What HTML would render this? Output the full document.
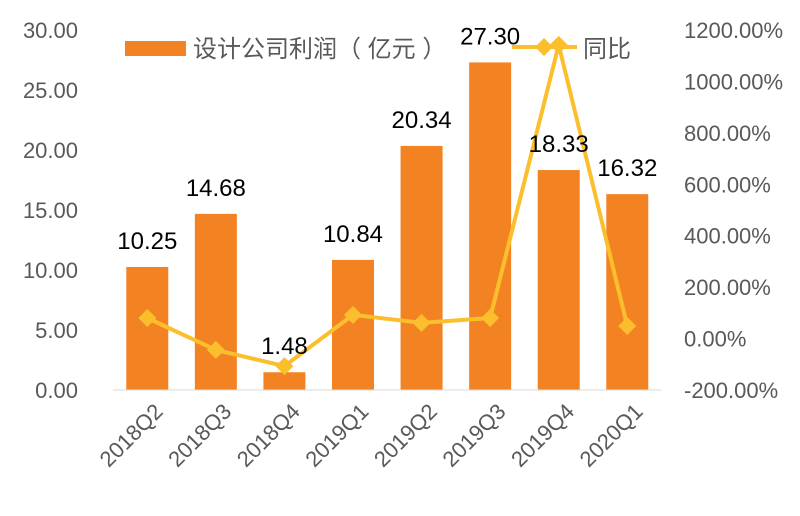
<!DOCTYPE html>
<html><head><meta charset="utf-8"><style>
body{margin:0;background:#fff;width:800px;height:516px;overflow:hidden;position:relative}
svg{display:block;font-family:"Liberation Sans","Noto Sans CJK SC",sans-serif}
</style></head><body>
<svg id="c" width="800" height="516"></svg>
<script>
const categories=["2018Q2","2018Q3","2018Q4","2019Q1","2019Q2","2019Q3","2019Q4","2020Q1"];
const profits=[10.25,14.68,1.48,10.84,20.34,27.30,18.33,16.32];
const yoy=[80,-44,-107,92,61,80,1142,49];
const leftTicks=[0,5,10,15,20,25,30];
const rightTicks=[-200,0,200,400,600,800,1000,1200];
const NS="http://www.w3.org/2000/svg";
const svgEl=document.getElementById('c');
const x0=113,step=68.57,yTop=30,yBot=390;
const xc=i=>x0+step*(i+0.5);
const yl=v=>yBot-(v/30)*(yBot-yTop);
const yr=v=>yBot-((v+200)/1400)*(yBot-yTop);
function mk(t,a){const e=document.createElementNS(NS,t);for(const k in a)e.setAttribute(k,a[k]);svgEl.appendChild(e);return e;}
leftTicks.forEach(v=>{const t=mk('text',{x:78,y:yl(v)+8,'text-anchor':'end','font-size':22,fill:'#595959'});t.textContent=v.toFixed(2);

});
rightTicks.forEach(v=>{const t=mk('text',{x:684,y:yr(v)+8,'font-size':22,fill:'#595959'});t.textContent=v.toFixed(2)+'%';

});
profits.forEach((v,i)=>{const r=mk('rect',{x:xc(i)-21,y:yl(v),width:42,height:yBot-yl(v),fill:'#F38223'});

});
const ax=mk('line',{x1:x0,x2:x0+step*8,y1:yBot,y2:yBot,stroke:'#d9d9d9','stroke-width':1});


let d=yoy.map((v,i)=>(i?'L':'M')+xc(i)+' '+yr(v)).join(' ');
const p=mk('path',{d:d,fill:'none',stroke:'#FBBF2E','stroke-width':4,'stroke-linejoin':'round'});


yoy.forEach((v,i)=>{const x=xc(i),y=yr(v);const m=mk('polygon',{points:`${x},${y-9} ${x+9},${y} ${x},${y+9} ${x-9},${y}`,fill:'#FBBF2E'});

});
profits.forEach((v,i)=>{const t=mk('text',{x:xc(i),y:yl(v)-18,'text-anchor':'middle','font-size':24,fill:'#000'});t.textContent=v.toFixed(2);

});
categories.forEach((c,i)=>{const x=xc(i)+6,y=402;const t=mk('text',{x:x,y:y,'text-anchor':'end','font-size':22,fill:'#595959',transform:`rotate(-45 ${x} ${y})`,dy:'0.7em'});t.textContent=c;

});
</script>
<svg style="position:absolute;left:0;top:0" width="800" height="80">
<g>
<rect x="125" y="41" width="61" height="15" fill="#F38223"/>
<text x="193" y="57" font-size="24" fill="#595959">设计公司利润（ 亿元 ）</text>
<line x1="512" x2="577" y1="47" y2="47" stroke="#FBBF2E" stroke-width="4"/>
<polygon points="544,38 553,47 544,56 535,47" fill="#FBBF2E"/>
<text x="583" y="57" font-size="24" fill="#595959">同比</text>
</g></svg>
</body></html>
